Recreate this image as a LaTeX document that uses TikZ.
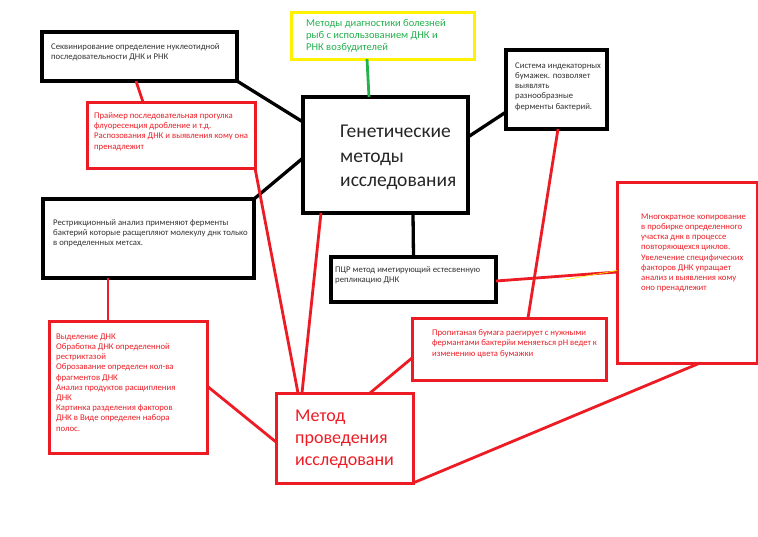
\documentclass[tikz,border=0pt]{standalone}
\usepackage{fontspec}
\setmainfont{Carlito}
\definecolor{pred}{RGB}{237,28,36}
\definecolor{pgreen}{RGB}{34,177,76}
\definecolor{pyellow}{RGB}{255,242,0}
\definecolor{ptext}{RGB}{50,50,50}
\tikzset{
  blackbox/.style={draw=black, line width=3.8pt, fill=white, inner sep=0, outer sep=0},
  redbox/.style={draw=pred, line width=3pt, fill=white, inner sep=0, outer sep=0},
  yellowbox/.style={draw=pyellow, line width=3pt, fill=white, inner sep=0, outer sep=0},
  blackline/.style={draw=black, line width=3.3pt},
  redline/.style={draw=pred, line width=2.8pt},
  greenline/.style={draw=pgreen, line width=2.8pt},
  smalltext/.style={font=\fontsize{8.7}{10.2}\selectfont, align=left, anchor=north west, inner sep=0, text=ptext},
  smallred/.style={smalltext, text=pred},
}
\begin{document}
\begin{tikzpicture}[x=1pt,y=-1pt]
\useasboundingbox (0,0) rectangle (758,536);
\fill[white] (0,0) rectangle (758,536);

% boxes
\node[blackbox, minimum width=195pt, minimum height=49pt] (seq) at (139.5,56.5) {};
\node[redbox, minimum width=168pt, minimum height=66pt] (primer) at (171,135) {};
\node[yellowbox, minimum width=183pt, minimum height=47pt] (yel) at (382.5,35.5) {};
\node[blackbox, minimum width=165pt, minimum height=116pt] (gen) at (385.5,155) {};
\node[blackbox, minimum width=101pt, minimum height=79pt] (sys) at (556.5,89.5) {};
\node[blackbox, minimum width=211pt, minimum height=79pt] (restr) at (148.5,238.5) {};
\node[blackbox, minimum width=165pt, minimum height=45pt] (pcr) at (413.5,279.5) {};
\node[redbox, minimum width=158pt, minimum height=132pt] (vyd) at (128,387) {};
\node[redbox, minimum width=194pt, minimum height=62pt] (prop) at (509,349) {};
\node[redbox, minimum width=140pt, minimum height=181pt] (mnog) at (687,272.5) {};
\node[redbox, minimum width=137pt, minimum height=90pt] (met) at (344.5,438) {};

% connectors
\draw[blackline] (seq.south east) -- ([yshift=-25pt]gen.north west);
\draw[blackline] (restr.north east) -- ([yshift=-61pt]gen.north west);
\draw[blackline] ([yshift=-62pt]sys.north west) -- ([yshift=-40pt]gen.north east);
\draw[greenline] ([xshift=76pt]yel.south west) -- ([xshift=66pt]gen.north west);
\draw[blackline] ([xshift=110pt]gen.south west) -- (pcr.north);
\draw[redline] ([xshift=94pt]seq.south west) -- ([xshift=56pt]primer.north west);
\draw[redline] ([xshift=65pt]restr.south west) -- ([xshift=59pt]vyd.north west);
\draw[redline] (primer.south east) -- ([xshift=22pt]met.north west);
\draw[redline] ([xshift=18pt]gen.south west) -- ([xshift=26pt]met.north west);
\draw[redline] ([yshift=-65pt]vyd.north east) -- ([yshift=-49pt]met.north west);
\draw[redline] ([yshift=-40pt]prop.north west) -- ([xshift=94pt]met.north west);
\draw[redline] ([xshift=52pt]sys.south west) -- ([xshift=116pt]prop.north west);
\draw[redline] ([yshift=-24pt]pcr.north east) -- ([yshift=-90pt]mnog.north west);
\draw[pyellow, line width=0.6pt] ([yshift=-22.6pt,xshift=70pt]pcr.north east) -- ([yshift=-88.6pt]mnog.north west);
\draw[redline] ([xshift=83pt]mnog.south west) -- (met.south east);

% texts
\node[smalltext] (tseq) at (51,43.5) {Секвинирование определение нуклеотидной\\последовательности ДНК и РНК};
\node[smallred] (tprimer) at (94,112.5) {Праймер последовательная прогулка\\флуоресенция дробление и т.д.\\Распозования ДНК и выявления кому она\\пренадлежит};
\node[smalltext, text=pgreen, font=\fontsize{10.5}{12}\selectfont] (tyel) at (306,19.5) {Методы диагностики болезней\\рыб с использованием ДНК и\\РНК возбудителей};
\node[smalltext, text=black!85, font=\fontsize{19.5}{24.5}\selectfont] (tgen) at (340,125) {Генетические\\методы\\исследования};
\node[smalltext] (tsys) at (515,62.5) {Система индекаторных\\бумажек. позволяет\\выявлять\\разнообразные\\ферменты бактерий.};
\node[smalltext] (trestr) at (53,219.5) {Рестрикционный анализ применяют ферменты\\бактерий которые расщепляют молекулу днк только\\в определенных метсах.};
\node[smalltext] (tpcr) at (335,266.5) {ПЦР метод иметирующий естесвенную\\репликацию ДНК};
\node[smallred] (tvyd) at (56,333.5) {Выделение ДНК\\Обработка ДНК определенной\\рестриктазой\\Оброзавание определен кол-ва\\фрагментов ДНК\\Анализ продуктов расщипления\\ДНК\\Картинка разделения факторов\\ДНК в Виде определен набора\\полос.};
\node[smallred] (tprop) at (432,329.5) {Пропитаная бумага раегирует с нужными\\фермантами бактерйи меняеться pH ведет к\\изменению цвета бумажки};
\node[smallred] (tmnog) at (641,213.5) {Многократное копирование\\в пробирке определенного\\участка днк в процессе\\повторяющехся циклов.\\Увелечение специфических\\факторов ДНК упращает\\анализ и выявления кому\\оно пренадлежит};
\node[smallred, font=\fontsize{18}{22}\selectfont] (tmet) at (295,409.5) {Метод\\проведения\\исследовани};
\end{tikzpicture}
\end{document}
